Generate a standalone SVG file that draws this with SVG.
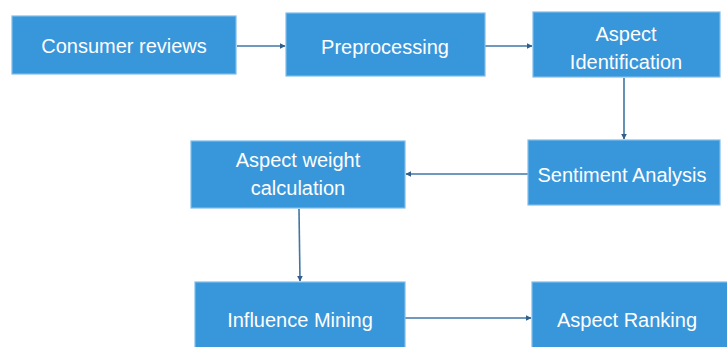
<svg xmlns="http://www.w3.org/2000/svg" width="727" height="347" viewBox="0 0 727 347">
<style>
.box{fill:#3896da;stroke:#7fbde9;stroke-width:1.2}
.t{font-family:"Liberation Sans",Arial,sans-serif;font-size:20px;fill:#ffffff;text-anchor:middle}
.c{stroke:#3f76a6;stroke-width:1.6;fill:none;marker-end:url(#ah)}
</style>
<defs>
<marker id="ah" viewBox="0 0 10 10" refX="9" refY="5" markerWidth="6" markerHeight="6" orient="auto" markerUnits="userSpaceOnUse">
<path d="M0,0 L10,5 L0,10 z" fill="#2f5f8a"/>
</marker>
</defs>
<rect width="727" height="347" fill="#ffffff"/>
<g id="connectors">
<line class="c" x1="237" y1="46" x2="285" y2="46"/>
<line class="c" x1="485" y1="46" x2="532" y2="46"/>
<line class="c" x1="624" y1="78" x2="624" y2="139"/>
<line class="c" x1="528" y1="174" x2="406" y2="174"/>
<line class="c" x1="299" y1="209" x2="300" y2="281"/>
<line class="c" x1="405" y1="318" x2="531" y2="318"/>
</g>
<g id="n1"><rect class="box" x="12" y="16" width="224" height="58"/><text class="t" x="124" y="53">Consumer reviews</text></g>
<g id="n2"><rect class="box" x="286" y="13" width="199" height="63"/><text class="t" x="385" y="54">Preprocessing</text></g>
<g id="n3"><rect class="box" x="533" y="12" width="187" height="65"/><text class="t" x="626" y="41">Aspect</text><text class="t" x="626" y="69">Identification</text></g>
<g id="n4"><rect class="box" x="528" y="140" width="192" height="65"/><text class="t" x="622" y="182">Sentiment Analysis</text></g>
<g id="n5"><rect class="box" x="191" y="141" width="214" height="67"/><text class="t" x="298" y="167">Aspect weight</text><text class="t" x="298" y="195">calculation</text></g>
<g id="n6"><rect class="box" x="195" y="282" width="210" height="70"/><text class="t" x="300" y="327">Influence Mining</text></g>
<g id="n7"><rect class="box" x="532" y="282" width="200" height="70"/><text class="t" x="627" y="327">Aspect Ranking</text></g>
</svg>
